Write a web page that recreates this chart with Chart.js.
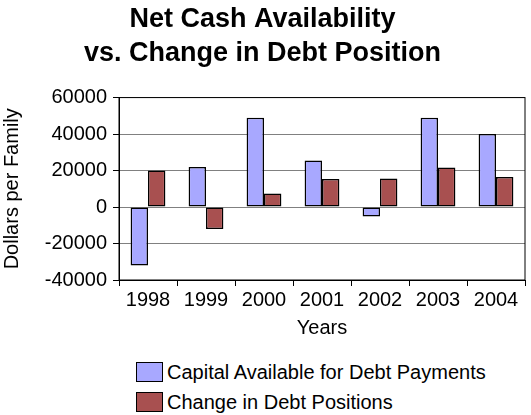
<!DOCTYPE html>
<html>
<head>
<meta charset="utf-8">
<script src="https://cdn.jsdelivr.net/npm/chart.js@4"></script>
<style>
  body { margin: 0; background: #fff; font-family: "Liberation Sans", Arial, sans-serif; }
  #wrap { width: 531px; height: 340px; }
  .legend { position: absolute; left: 136px; font-size: 20px; color: #000; }
  .legend div { height: 30px; display: flex; align-items: center; }
  .legend span { display: inline-block; width: 25px; height: 18px; border: 1px solid #000; margin-right: 4px; }
</style>
</head>
<body>
<div id="wrap"><canvas id="chart"></canvas></div>
<div class="legend" style="top:357px">
  <div><span style="background:#a8a8ff"></span>Capital Available for Debt Payments</div>
  <div><span style="background:#a85050"></span>Change in Debt Positions</div>
</div>
<script>
"use strict";

// values
const years = ["1998", "1999", "2000", "2001", "2002", "2003", "2004"];
const capitalAvailable = [-32000, 22000, 49000, 25500, -5200, 49000, 40000];
const debtChange = [20000, -12000, 7400, 15400, 15700, 21700, 16500];

const font = "'Liberation Sans', Arial, sans-serif";

// box around the plot area
const frame = {
  id: "frame",
  afterDraw(chart) {
    const a = chart.chartArea;
    const ctx = chart.ctx;
    ctx.save();
    ctx.strokeStyle = "#000";
    ctx.lineWidth = 1;
    ctx.strokeRect(a.left, a.top, a.right - a.left, a.bottom - a.top);
    ctx.restore();
  }
};

const data = {
  labels: years,
  datasets: [
    {
      label: "Capital Available for Debt Payments",
      data: capitalAvailable,
      backgroundColor: "#a8a8ff",
      borderColor: "#000",
      borderWidth: 1.5,
      borderSkipped: false,
    },
    {
      label: "Change in Debt Positions",
      data: debtChange,
      backgroundColor: "#a85050",
      borderColor: "#000",
      borderWidth: 1.5,
      borderSkipped: false,
    },
  ],
};

const config = {
  type: "bar",
  data: data,
  plugins: [frame],
  options: {
    responsive: true,
    maintainAspectRatio: false,
    animation: false,
    layout: { padding: { left: 0, right: 6, top: 0, bottom: 0 } },
    datasets: { bar: { categoryPercentage: 0.6, barPercentage: 1.0 } },
    plugins: {
      legend: { display: false },
      tooltip: { enabled: false },
      title: {
        display: true,
        text: ["Net Cash Availability", "vs. Change in Debt Position"],
        color: "#000",
        font: { family: font, size: 27, weight: "bold", lineHeight: 1.27 },
        padding: { top: 2, bottom: 27 },
      },
    },
    scales: {
      x: {
        grid: { offset: true, drawOnChartArea: false, color: "#000", tickLength: 6 },
        border: { color: "#000" },
        ticks: { color: "#000", font: { family: font, size: 20 }, padding: 2 },
        title: { display: true, text: "Years", color: "#000", font: { family: font, size: 20 }, padding: 0 },
        afterFit(scale) { scale.height = 60; },
      },
      y: {
        min: -40000,
        max: 60000,
        ticks: {
          stepSize: 10000,
          color: "#000",
          font: { family: font, size: 20 },
          padding: 6,
          callback: (v) => (v % 20000 === 0 ? v : ""),
        },
        grid: {
          color: (c) => (c.tick && c.tick.value % 20000 === 0 ? "#808080" : "rgba(0,0,0,0)"),
          tickColor: "#000",
          tickLength: 6,
        },
        border: { color: "#000" },
        title: { display: true, text: "Dollars per Family", color: "#000", font: { family: font, size: 20 }, padding: 0 },
        afterFit(scale) { scale.width = 119; },
      },
    },
  },
};

new Chart(document.querySelector("#chart"), config);
</script>
</body>
</html>
